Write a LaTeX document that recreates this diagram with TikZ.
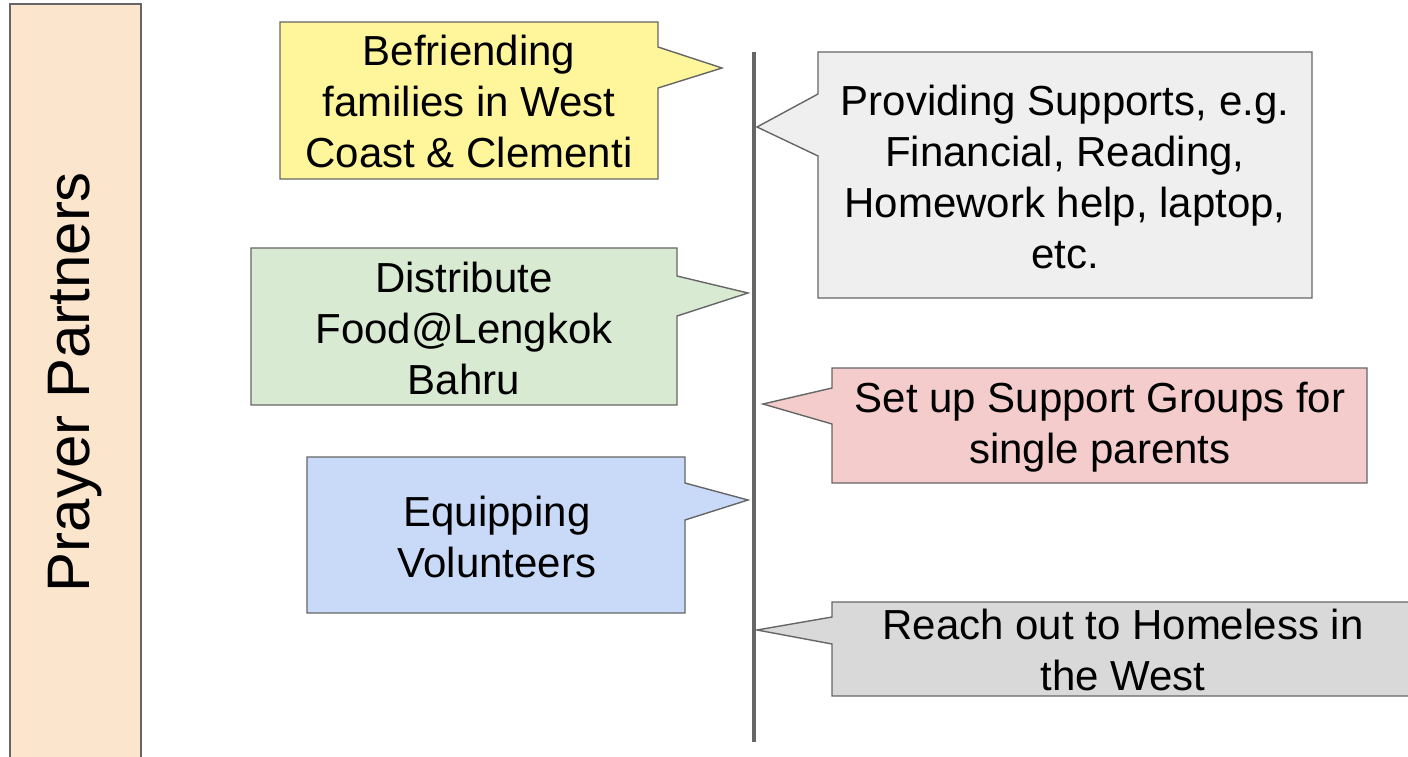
\documentclass[tikz,border=0pt]{standalone}
\usepackage{fontspec}
\setmainfont{Liberation Sans}
\definecolor{cyellow}{HTML}{FFF59A}
\definecolor{cgray}{HTML}{EFEFEF}
\definecolor{cgreen}{HTML}{D9EAD3}
\definecolor{cpink}{HTML}{F4CCCC}
\definecolor{cblue}{HTML}{C9DAF8}
\definecolor{cgraydark}{HTML}{D9D9D9}
\definecolor{corange}{HTML}{FCE5CD}
\definecolor{cborder}{HTML}{666666}
\begin{document}
\begin{tikzpicture}[x=1pt,y=-1pt,
  callout/.style={draw=cborder, line width=1.4pt, line join=miter},
  label/.style={inner sep=0pt, align=center, font=\fontsize{42}{51}\selectfont},
  sidebox/.style={draw=cborder, line width=1.4pt, fill=corange},
  timeline/.style={draw=cborder, line width=4pt}]
\useasboundingbox (0,0) rectangle (1408,757);
\fill[white] (0,0) rectangle (1408,757);

% left side box
\path[sidebox] (10,4) rectangle (141,775);
\node[rotate=90, inner sep=0pt, font=\fontsize{60}{70}\selectfont] (pp) at (75.5,382) {Prayer Partners};

% timeline
\coordinate (ttop) at (754,52);
\coordinate (tbot) at (754,742);
\draw[timeline] (ttop) -- (tbot);

% yellow callout
\path[callout, fill=cyellow] (280,22) -- (658,22) -- (658,47) -- (722,68) -- (658,88) -- (658,179) -- (280,179) -- cycle;
\node[label] (befr) at (469,101) {Befriending\\families in West\\Coast \& Clementi};

% gray callout top right
\path[callout, fill=cgray] (818,52) -- (1312,52) -- (1312,298) -- (818,298) -- (818,156) -- (757,127) -- (818,94) -- cycle;
\node[label] (prov) at (1065,177) {Providing Supports, e.g.\\Financial, Reading,\\Homework help, laptop,\\etc.};

% green callout
\path[callout, fill=cgreen] (251,248) -- (677,248) -- (677,276) -- (748,293) -- (677,316) -- (677,405) -- (251,405) -- cycle;
\node[label] (dist) at (464,328) {Distribute\\Food@Lengkok\\Bahru};

% pink callout
\path[callout, fill=cpink] (832,368) -- (1367,368) -- (1367,483) -- (832,483) -- (832,424) -- (763,404) -- (832,388) -- cycle;
\node[label] (supp) at (1100,427) {Set up Support Groups for\\single parents};

% blue callout
\path[callout, fill=cblue] (307,457) -- (685,457) -- (685,483) -- (748,500) -- (685,520) -- (685,613) -- (307,613) -- cycle;
\node[label] (equip) at (497,537) {Equipping\\Volunteers};

% gray callout bottom right
\path[callout, fill=cgraydark] (832,602) -- (1420,602) -- (1420,696) -- (832,696) -- (832,644) -- (757,630) -- (832,617) -- cycle;
\node[label] (reach) at (1123,650) {Reach out to Homeless in\\the West};
\end{tikzpicture}
\end{document}
